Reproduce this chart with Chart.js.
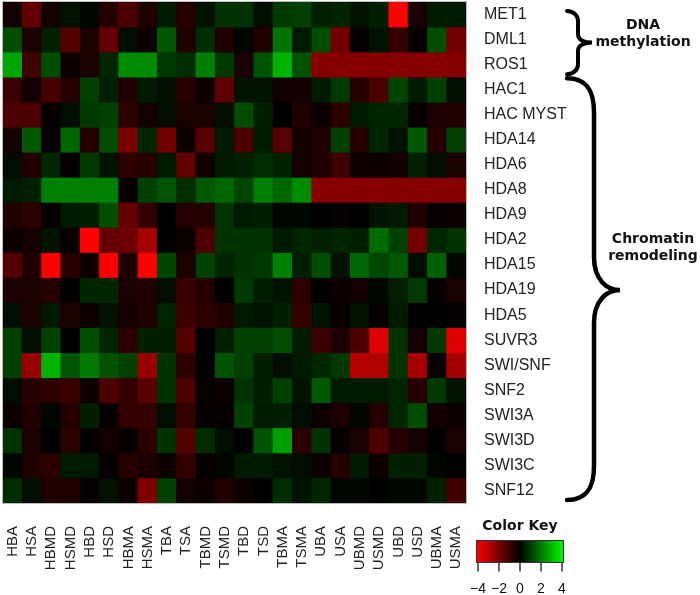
<!DOCTYPE html>
<html>
<head>
<meta charset="utf-8">
<script src="https://cdn.jsdelivr.net/npm/chart.js@4.4.1/dist/chart.umd.min.js"></script>
<style>
  html, body { margin: 0; padding: 0; background: #fff; }
  #wrap { width: 700px; height: 595px; }
</style>
</head>
<body>
<div id="wrap"><canvas id="heatmap" width="700" height="595"></canvas></div>
<script>
// Samples (columns) and genes (rows)
const samples = ['HBA', 'HSA', 'HBMD', 'HSMD', 'HBD', 'HSD', 'HBMA', 'HSMA',
                 'TBA', 'TSA', 'TBMD', 'TSMD', 'TBD', 'TSD', 'TBMA', 'TSMA',
                 'UBA', 'USA', 'UBMD', 'USMD', 'UBD', 'USD', 'UBMA', 'USMA'];
const genes = ['MET1', 'DML1', 'ROS1', 'HAC1', 'HAC MYST', 'HDA14', 'HDA6', 'HDA8',
               'HDA9', 'HDA2', 'HDA15', 'HDA19', 'HDA5', 'SUVR3', 'SWI/SNF', 'SNF2',
               'SWI3A', 'SWI3D', 'SWI3C', 'SNF12'];

// log2 fold change, one row per gene
const values = [
  [-0.3, -1.5, -0.3, 0.3, 0.1, -0.6, -1.2, -0.5,   0.4, -0.6, 0.3, 0.8, 0.8, 0.2, 0.9, 1.0,   0.5, 0.6, 0.3, 0.5, -4.0, -0.4, 0.4, 0.4],
  [1.2, -0.4, 0.5, -1.3, -0.4, -1.6, 0.2, -0.2,    1.4, -0.5, 0.7, -0.5, 0.1, -0.5, 1.8, 0.4,   1.2, -1.8, -0.1, 0.3, -0.8, -0.1, 1.2, -1.8],
  [2.6, -1.0, 1.2, -0.2, -0.4, 0.6, 2.2, 2.2,      0.9, 0.7, 2.0, 0.9, -0.4, 1.3, 2.8, 1.3,     -2.1, -2.1, -2.1, -2.1, -2.1, -2.1, -2.1, -2.1],
  [-0.9, -0.3, -1.1, -0.6, 1.0, 0.5, -0.5, 0.4,    0.2, -0.6, -0.2, -1.5, 0.3, 0.3, -0.3, -0.3, 0.4, 0.9, -0.6, -1.2, 1.1, 0.4, 1.0, 0.2],
  [-1.2, -1.2, -0.1, 0.2, 0.9, 1.0, -0.7, -0.3,    0.2, -0.4, -0.4, 0.2, 1.2, 0.5, 0.0, -0.5,   -0.2, -0.7, 0.4, 0.6, 0.6, -0.1, -0.4, -0.5],
  [-0.3, 1.4, -0.1, 1.6, -0.6, 1.2, -1.9, 0.6,     -1.8, -0.2, -1.4, 0.4, -1.2, 0.4, -1.4, -0.3, -0.5, 1.0, -0.6, 0.6, 0.3, 1.4, -0.6, 1.0],
  [0.2, -0.5, 0.6, -0.1, 0.9, 0.3, -0.7, -0.6,     0.4, -1.5, -0.3, 0.4, 0.5, 0.7, 0.5, -0.3,   -0.5, -1.0, -0.2, -0.2, -0.3, 0.5, 0.2, -0.4],
  [0.4, 0.5, 2.0, 2.0, 2.0, 2.0, -0.1, 1.0,        1.3, 0.7, 1.4, 1.6, 1.1, 2.0, 1.6, 2.2,      -2.1, -2.1, -2.1, -2.1, -2.1, -2.1, -2.1, -2.1],
  [-0.5, -0.7, -0.1, 0.4, 0.5, 1.2, -1.6, -0.8,    0.0, -0.6, -0.6, 0.8, 0.4, 0.5, 0.1, 0.1,    0.0, -0.1, 0.0, 0.3, 0.4, -0.5, -0.1, -0.2],
  [-0.2, -0.3, 0.3, -0.1, -4.0, -1.6, -1.7, -2.6,  0.0, -0.2, -1.2, 0.8, 0.8, 0.8, 0.4, 0.6,    0.5, 0.6, 0.5, 1.7, 1.0, -1.8, 0.6, 0.8],
  [-1.3, -0.5, -4.0, -0.6, -0.2, -4.0, -0.4, -4.0, 1.1, -0.4, 1.0, 0.6, 0.8, 0.9, 2.0, 0.5,     1.2, 0.3, 1.6, 1.1, 1.4, 0.2, 1.5, 0.1],
  [-0.4, -0.4, -0.6, 0.0, 0.6, 0.6, -0.4, -0.5,    0.2, -0.9, -0.6, 0.0, 0.9, 0.5, 0.3, -0.7,   0.0, -0.2, -0.3, 0.1, 0.5, 0.9, -0.1, -0.4],
  [0.2, -0.4, 0.4, -0.4, -0.2, 0.3, -0.3, -0.5,    0.6, -1.0, -0.7, -0.5, 0.4, 0.3, 0.5, -0.8,  0.3, -0.1, 0.3, -0.1, 0.4, 0.0, 0.0, -0.1],
  [1.0, 0.2, 1.0, 0.0, 1.2, 0.6, -0.7, 0.5,        0.5, -1.3, 0.0, 0.5, 1.0, 1.0, 1.2, 0.4,     -0.9, -0.4, -1.2, -3.5, 0.8, -0.3, 0.9, -3.5],
  [1.0, -2.4, 2.8, 1.3, 1.9, 1.3, 1.0, -2.4,       0.8, -0.7, 0.0, 1.3, 1.0, 0.5, 0.2, 0.4,     0.6, 0.9, -2.8, -2.8, 0.8, -2.6, -0.1, -2.6],
  [0.2, -0.6, -0.7, -0.9, -0.2, -1.2, -0.8, -1.4,  0.8, -1.2, -0.1, -0.2, 0.8, 0.5, 1.0, 0.3,   1.4, 0.4, 0.4, 0.4, 0.6, -0.6, 0.9, 0.3],
  [-0.2, -0.5, 0.1, -0.6, 0.5, -0.1, -0.8, -0.8,   0.2, -0.8, -0.1, -0.1, 1.0, 0.4, 0.5, 0.2,   -0.2, -0.4, 0.1, -0.6, 0.6, 1.2, -0.3, -0.2],
  [0.8, -0.4, 0.0, -0.7, -0.1, -0.3, -0.1, -0.7,   0.8, -1.3, 0.7, 0.2, 0.0, 1.3, 2.5, -0.7,    0.8, -0.1, -0.4, -1.2, -0.6, -0.3, 0.0, -0.4],
  [0.1, -0.5, -0.7, 0.4, 0.4, -0.1, -0.6, -0.4,    -0.2, -0.8, -0.1, 0.1, 0.4, 0.4, 0.3, 0.2,   -0.2, -0.6, 0.4, -0.2, 0.5, 0.5, 0.1, 0.0],
  [0.7, 0.2, -0.5, -0.5, -0.1, 0.3, -0.2, -2.0,    1.0, -0.3, -0.2, -0.5, -0.2, 0.0, 0.7, 0.3,  0.6, 0.1, 0.1, 0.0, 0.1, 0.1, 0.5, -1.0]
];

// Color key ticks
const keyTicks = [-4, -2, 0, 2, 4];
const keyMin = -4, keyMax = 4;

// Gene groups for the braces
const groups = [
  { label: ['DNA', 'methylation'], from: 'MET1', to: 'ROS1' },
  { label: ['Chromatin', 'remodeling'], from: 'HAC1', to: 'SNF12' }
];

// red - black - green scale
function colorFor(v) {
  const t = Math.max(-1, Math.min(1, v / keyMax));
  if (t < 0) return `rgb(${Math.round(-t * 255)},0,0)`;
  return `rgb(0,${Math.round(t * 255)},0)`;
}

const sansFamily = '"Liberation Sans", Arial, Helvetica, sans-serif';
const boldFont = 'bold 14px "DejaVu Sans", sans-serif';

// no extra padding from rotated / edge labels
function noPadding(scale) {
  scale.paddingTop = 0;
  scale.paddingBottom = 0;
  scale.paddingLeft = 0;
  scale.paddingRight = 0;
}

// draws black behind the cells, then braces, group labels and colour key
const extrasPlugin = {
  id: 'extras',
  beforeDatasetsDraw(chart) {
    const { ctx, chartArea: a } = chart;
    ctx.save();
    ctx.fillStyle = '#000';
    ctx.fillRect(a.left, a.top, a.right - a.left, a.bottom - a.top);
    ctx.restore();
  },
  afterDraw(chart) {
    const { ctx, chartArea: a } = chart;
    const rows = chart.scales.rows;
    ctx.save();

    // braces
    ctx.strokeStyle = '#000';
    ctx.lineCap = 'round';
    ctx.lineJoin = 'miter';
    groups.forEach((g, gi) => {
      const half = rows.getPixelForValue(1) - rows.getPixelForValue(0);
      const top = rows.getPixelForValue(genes.indexOf(g.from)) - half / 2 + (gi === 0 ? 9 : 1);
      const bot = rows.getPixelForValue(genes.indexOf(g.to)) + half / 2 - 3;
      const mid = (top + bot) / 2 + (gi === 0 ? 0 : 1);
      const x0 = 567;
      const xs = gi === 0 ? 578 : 594;
      const tip = gi === 0 ? 592 : 620;
      const r = gi === 0 ? 10 : 34;
      const rt = gi === 0 ? 8 : 33;
      ctx.lineWidth = gi === 0 ? 4 : 4.5;
      ctx.beginPath();
      ctx.moveTo(x0, top);
      ctx.bezierCurveTo(xs - 4, top, xs, top + r * 0.5, xs, top + r);
      ctx.lineTo(xs, mid - rt);
      ctx.bezierCurveTo(xs, mid - rt * 0.3, tip - (tip - xs) * 0.5, mid, tip, mid);
      ctx.bezierCurveTo(tip - (tip - xs) * 0.5, mid, xs, mid + rt * 0.3, xs, mid + rt);
      ctx.lineTo(xs, bot - r);
      ctx.bezierCurveTo(xs, bot - r * 0.5, xs - 4, bot, x0, bot);
      ctx.stroke();

      ctx.fillStyle = '#111';
      ctx.font = boldFont;
      ctx.textAlign = 'center';
      ctx.textBaseline = 'middle';
      const cx = gi === 0 ? 643 : 653;
      const cy = gi === 0 ? 33 : 247;
      ctx.fillText(g.label[0], cx, cy - 8);
      ctx.fillText(g.label[1], cx, cy + 9);
    });

    // colour key
    const kx = 476, ky = 540, kw = 88, kh = 23;
    const grad = ctx.createLinearGradient(kx, 0, kx + kw, 0);
    grad.addColorStop(0, colorFor(keyMin));
    grad.addColorStop(0.5, colorFor(0));
    grad.addColorStop(1, colorFor(keyMax));
    ctx.fillStyle = grad;
    ctx.fillRect(kx, ky, kw, kh);
    ctx.strokeStyle = '#333';
    ctx.lineWidth = 1;
    ctx.strokeRect(kx + 0.5, ky + 0.5, kw - 1, kh - 1);

    ctx.fillStyle = '#111';
    ctx.font = boldFont;
    ctx.textAlign = 'center';
    ctx.textBaseline = 'middle';
    ctx.fillText('Color Key', kx + kw / 2, 526);

    ctx.font = '14px ' + sansFamily;
    ctx.lineWidth = 1.5;
    keyTicks.forEach(t => {
      const x = kx + 2 + (t - keyMin) / (keyMax - keyMin) * (kw - 4);
      ctx.beginPath();
      ctx.moveTo(x, ky + kh);
      ctx.lineTo(x, ky + kh + 8);
      ctx.stroke();
      ctx.fillText(t < 0 ? '\u2212' + Math.abs(t) : String(t), x, 589);
    });

    // thin frame around the heatmap
    ctx.strokeStyle = '#bbb';
    ctx.lineWidth = 1;
    ctx.strokeRect(a.left - 0.5, a.top - 0.5, a.right - a.left + 1, a.bottom - a.top + 1);
    ctx.restore();
  }
};

new Chart(document.getElementById('heatmap'), {
  type: 'bar',
  data: {
    labels: samples,
    datasets: genes.map((g, i) => ({
      label: g,
      data: samples.map(() => 1),
      backgroundColor: values[i].map(colorFor),
      borderWidth: 0,
      barPercentage: 1,
      categoryPercentage: 1,
      yAxisID: 'y'
    }))
  },
  options: {
    responsive: false,
    animation: false,
    layout: { padding: { left: 3, top: 2, right: 0, bottom: 0 } },
    plugins: {
      legend: { display: false },
      tooltip: { enabled: false }
    },
    scales: {
      x: {
        stacked: true,
        grid: { display: false, drawTicks: false },
        border: { display: false },
        ticks: {
          autoSkip: false,
          minRotation: 90,
          maxRotation: 90,
          padding: 23,
          color: '#222',
          font: { family: sansFamily, size: 15 }
        },
        afterFit(scale) { scale.height = 92; noPadding(scale); }
      },
      y: {
        stacked: true,
        reverse: true,
        min: 0,
        max: genes.length,
        display: false
      },
      rows: {
        type: 'category',
        position: 'right',
        labels: genes,
        offset: true,
        grid: { display: false, drawTicks: false },
        border: { display: false },
        ticks: { padding: 18, color: '#222', font: { family: sansFamily, size: 16 } },
        afterFit(scale) { scale.width = 234; noPadding(scale); }
      }
    }
  },
  plugins: [extrasPlugin]
});
</script>
</body>
</html>
